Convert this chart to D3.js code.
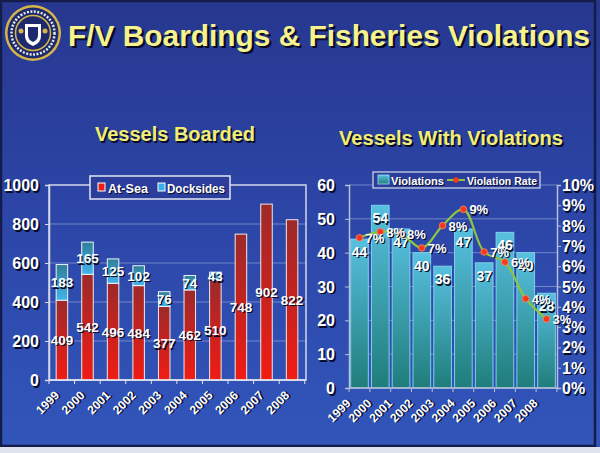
<!DOCTYPE html>
<html><head><meta charset="utf-8">
<script src="https://cdn.jsdelivr.net/npm/d3@7"></script>
<style>html,body{margin:0;padding:0;background:#2a3f9f;}svg{display:block;}</style>
</head><body>
<script>
const years = ["1999","2000","2001","2002","2003","2004","2005","2006","2007","2008"];
const atSea = [409,542,496,484,377,462,510,748,902,822];
const docksides = [183,165,125,102,76,74,43,0,0,0];
const violations = [44,54,47,40,36,47,37,46,40,28];
const violationRate = [7.4,7.7,7.6,6.9,8.0,8.8,6.7,6.2,4.4,3.4];
const leftTicks = [0,200,400,600,800,1000];
const rightCountTicks = [0,10,20,30,40,50,60];
const rateTicks = [0,1,2,3,4,5,6,7,8,9,10];

const W = 600, H = 453;
const svg = d3.select("body").append("svg").attr("width", W).attr("height", H);
const defs = svg.append("defs");

const bg = defs.append("linearGradient").attr("id","bg").attr("x1",0).attr("y1",0).attr("x2",0).attr("y2",1);
bg.append("stop").attr("offset","0%").attr("stop-color","#27378f");
bg.append("stop").attr("offset","45%").attr("stop-color","#2c45a6");
bg.append("stop").attr("offset","100%").attr("stop-color","#3256bb");
const red = defs.append("linearGradient").attr("id","red").attr("x1",0).attr("y1",0).attr("x2",0).attr("y2",1);
red.append("stop").attr("offset","0%").attr("stop-color","#9c2a2a");
red.append("stop").attr("offset","100%").attr("stop-color","#f01c14");
const blu = defs.append("linearGradient").attr("id","blu").attr("x1",0).attr("y1",0).attr("x2",0).attr("y2",1);
blu.append("stop").attr("offset","0%").attr("stop-color","#2f7f98");
blu.append("stop").attr("offset","100%").attr("stop-color","#42b4ec");
const teal = defs.append("linearGradient").attr("id","teal").attr("x1",0).attr("y1",0).attr("x2",0).attr("y2",1);
teal.append("stop").attr("offset","0%").attr("stop-color","#58c0e0");
teal.append("stop").attr("offset","100%").attr("stop-color","#1f7d7a");

svg.append("rect").attr("width",W).attr("height",H).attr("fill","url(#bg)");
svg.append("rect").attr("x",1).attr("y",1).attr("width",W-6).attr("height",H-8)
  .attr("fill","none").attr("stroke","#141c4a").attr("stroke-width",2.5);
svg.append("rect").attr("x",0).attr("y",H-6).attr("width",W).attr("height",6).attr("fill","#dfe3ee");

function label(g, x, y, txt, opts) {
  const o = Object.assign({size:14, fill:"#fff", anchor:"middle", weight:"bold", d:1.3, shadow:"#070b26", rotate:null, length:null}, opts||{});
  const mk = (xx, yy, col) => {
    const t = g.append("text").attr("x", xx).attr("y", yy).text(txt)
      .attr("font-family","'Liberation Sans', Arial, sans-serif")
      .attr("font-size", o.size).attr("font-weight", o.weight)
      .attr("fill", col).attr("text-anchor", o.anchor);
    if (o.length) t.attr("textLength", o.length).attr("lengthAdjust","spacingAndGlyphs");
    if (o.rotate !== null) t.attr("transform", `rotate(${o.rotate},${x},${y})`);
    return t;
  };
  mk(x + o.d, y + o.d, o.shadow);
  return mk(x, y, o.fill);
}

// Seal
const seal = svg.append("g").attr("transform","translate(33,33)");
seal.append("circle").attr("r",28).attr("fill","#d6b447");
seal.append("circle").attr("r",25.5).attr("fill","#1d2b6e");
seal.append("circle").attr("r",17.5).attr("fill","none").attr("stroke","#d6b447").attr("stroke-width",1.5);
seal.append("circle").attr("r",21.5).attr("fill","none").attr("stroke","#e8e8e8").attr("stroke-width",2.5).attr("stroke-dasharray","2,1.5");
seal.append("path").attr("d","M-8,-9 L8,-9 L8,3 Q8,10 0,13 Q-8,10 -8,3 Z").attr("fill","#ffffff");
seal.append("path").attr("d","M-5,-6 L5,-6 L5,2 Q5,7 0,9 Q-5,7 -5,2 Z").attr("fill","#1d2b6e");
seal.append("circle").attr("cx",-12).attr("cy",-2).attr("r",2.5).attr("fill","#d6b447");
seal.append("circle").attr("cx",12).attr("cy",-2).attr("r",2.5).attr("fill","#d6b447");

// Titles
label(svg, 68, 46, "F/V Boardings & Fisheries Violations", {size:30, anchor:"start", fill:"#f6f28c", d:2.2, length:522});
label(svg, 95, 141, "Vessels Boarded", {size:20, anchor:"start", fill:"#f3ee72", d:1.6, length:160});
label(svg, 339, 145, "Vessels With Violations", {size:20, anchor:"start", fill:"#f3ee72", d:1.6, length:224});

// ---------- Left chart ----------
const L = svg.append("g");
const xL = d3.scaleBand().domain(years).range([49,305]).paddingInner(0.55).paddingOuter(0.28);
const yL = d3.scaleLinear().domain([0,1000]).range([380,185]);

L.selectAll("line.grid").data(leftTicks.filter(d=>d>0&&d<1000)).join("line")
  .attr("x1",49).attr("x2",306).attr("y1",d=>yL(d)).attr("y2",d=>yL(d))
  .attr("stroke","#8fa0d8").attr("stroke-width",1).attr("opacity",0.7);
L.append("rect").attr("x",49).attr("y",yL(1000)).attr("width",257).attr("height",yL(0)-yL(1000))
  .attr("fill","none").attr("stroke","#d4d8e8").attr("stroke-width",1.5);

const stackL = years.map((y,i)=>({year:y, a:atSea[i], d:docksides[i]}));
L.selectAll("rect.sea").data(stackL).join("rect")
  .attr("x",d=>xL(d.year)).attr("width",xL.bandwidth())
  .attr("y",d=>yL(d.a)).attr("height",d=>yL(0)-yL(d.a))
  .attr("fill","url(#red)").attr("stroke","#f2e8e8").attr("stroke-width",1);
L.selectAll("rect.dock").data(stackL.filter(d=>d.d>0)).join("rect")
  .attr("x",d=>xL(d.year)).attr("width",xL.bandwidth())
  .attr("y",d=>yL(d.a+d.d)).attr("height",d=>yL(d.a)-yL(d.a+d.d))
  .attr("fill","url(#blu)").attr("stroke","#eef4f8").attr("stroke-width",1);

stackL.forEach(d=>{
  const cx = xL(d.year)+xL.bandwidth()/2;
  label(L, cx, yL(d.a/2)+5, String(d.a), {size:13.5});
  if (d.d>0) label(L, cx, yL(d.a+d.d/2)+5, String(d.d), {size:13.5});
});

const axL = L.append("g").attr("transform","translate(49,0)")
  .call(d3.axisLeft(yL).tickValues(leftTicks).tickSize(4).tickFormat(""));
axL.select(".domain").attr("stroke","#d4d8e8").attr("stroke-width",1.5);
axL.selectAll(".tick line").attr("stroke","#d4d8e8");
leftTicks.forEach(t=>label(L, 39, yL(t)+6, String(t), {size:16, anchor:"end", d:1.6}));

L.append("line").attr("x1",49).attr("x2",306).attr("y1",380).attr("y2",380).attr("stroke","#e0e4f0").attr("stroke-width",1.5);
L.selectAll("line.xt").data(d3.range(11)).join("line")
  .attr("x1",d=>49+d*xL.step()).attr("x2",d=>49+d*xL.step())
  .attr("y1",380).attr("y2",384).attr("stroke","#e0e4f0");
years.forEach(y=>{
  const cx = xL(y)+xL.bandwidth()/2;
  label(L, cx-2, 396, y, {size:12, anchor:"end", rotate:-45, d:1.2});
});

const lgL = L.append("g");
lgL.append("rect").attr("x",90).attr("y",176).attr("width",140).attr("height",23)
  .attr("fill","#2b3e9c").attr("stroke","#e4e6f0").attr("stroke-width",1.5);
lgL.append("rect").attr("x",98).attr("y",183).attr("width",7).attr("height",8).attr("fill","#e82018").attr("stroke","#fff").attr("stroke-width",1);
label(lgL, 108, 192.5, "At-Sea", {size:12.5, anchor:"start", length:40, d:1});
lgL.append("rect").attr("x",158).attr("y",183).attr("width",7).attr("height",8).attr("fill","#3aaee6").attr("stroke","#fff").attr("stroke-width",1);
label(lgL, 167, 192.5, "Docksides", {size:12.5, anchor:"start", length:58, d:1});

// ---------- Right chart ----------
const R = svg.append("g");
const xR = d3.scaleBand().domain(years).range([349,557]).paddingInner(0.15).paddingOuter(0.08);
const yR = d3.scaleLinear().domain([0,60]).range([388,185]);
const yP = d3.scaleLinear().domain([0,10]).range([388,185]);

R.selectAll("line.grid").data(rightCountTicks.filter(d=>d>0)).join("line")
  .attr("x1",349).attr("x2",557).attr("y1",d=>yR(d)).attr("y2",d=>yR(d))
  .attr("stroke","#8fa0d8").attr("stroke-width",1).attr("opacity",0.7);

R.selectAll("rect.viol").data(years.map((y,i)=>({year:y,v:violations[i]}))).join("rect")
  .attr("x",d=>xR(d.year)).attr("width",xR.bandwidth())
  .attr("y",d=>yR(d.v)).attr("height",d=>yR(0)-yR(d.v))
  .attr("fill","url(#teal)").attr("stroke","#7fd0e8").attr("stroke-width",1);

const axRl = R.append("g").attr("transform","translate(349,0)")
  .call(d3.axisLeft(yR).tickValues(rightCountTicks).tickSize(4).tickFormat(""));
axRl.select(".domain").attr("stroke","#b8bfd8").attr("stroke-width",1.5);
axRl.selectAll(".tick line").attr("stroke","#b8bfd8");
const axRr = R.append("g").attr("transform","translate(557,0)")
  .call(d3.axisRight(yP).tickValues(rateTicks).tickSize(4).tickFormat(""));
axRr.select(".domain").attr("stroke","#b8bfd8").attr("stroke-width",1.5);
axRr.selectAll(".tick line").attr("stroke","#b8bfd8");
R.append("line").attr("x1",349).attr("x2",557).attr("y1",388).attr("y2",388).attr("stroke","#b8bfd8").attr("stroke-width",1.5);
R.selectAll("line.xt").data(d3.range(11)).join("line")
  .attr("x1",d=>349+d*xR.step()+1.66-xR.step()*0.075).attr("x2",d=>349+d*xR.step()+1.66-xR.step()*0.075)
  .attr("y1",388).attr("y2",392).attr("stroke","#b8bfd8");

rightCountTicks.forEach(t=>label(R, 335, yR(t)+6, String(t), {size:16, anchor:"end", d:1.6}));
rateTicks.forEach(t=>label(R, 562, yP(t)+6, t+"%", {size:16, anchor:"start", d:1.6}));

violations.forEach((v,i)=>{
  const cx = xR(years[i])+xR.bandwidth()/2;
  label(R, cx, yR(v)+18, String(v), {size:14});
});

const pts = years.map((y,i)=>[xR(y)+xR.bandwidth()/2, yP(violationRate[i])]);
R.append("path").attr("d", d3.line().curve(d3.curveCatmullRom.alpha(0.5))(pts))
  .attr("fill","none").attr("stroke","#8cc63c").attr("stroke-width",2.2);
R.selectAll("circle.pt").data(pts).join("circle")
  .attr("cx",d=>d[0]).attr("cy",d=>d[1]).attr("r",3.3)
  .attr("fill","#f23a1c").attr("stroke","#ff8a60").attr("stroke-width",0.8);
pts.forEach((p,i)=>{
  label(R, p[0]+6, p[1]+5, Math.round(violationRate[i])+"%", {size:13, anchor:"start"});
});

years.forEach(y=>{
  const cx = xR(y)+xR.bandwidth()/2;
  label(R, cx-8, 404, y, {size:12, anchor:"end", rotate:-45, d:1.2});
});

const lgR = R.append("g");
lgR.append("rect").attr("x",373).attr("y",172).attr("width",167).attr("height",16)
  .attr("fill","#2b3e9c").attr("stroke","#d8dcea").attr("stroke-width",1.2);
lgR.append("rect").attr("x",378).attr("y",175).attr("width",11).attr("height",9).attr("fill","url(#teal)").attr("stroke","#9fe0f0").attr("stroke-width",0.8);
label(lgR, 391, 184.5, "Violations", {size:11.5, anchor:"start", length:53, d:1});
lgR.append("line").attr("x1",447).attr("x2",465).attr("y1",180).attr("y2",180).attr("stroke","#8cc63c").attr("stroke-width",2);
lgR.append("circle").attr("cx",456).attr("cy",180).attr("r",2.8).attr("fill","#f23a1c");
label(lgR, 467, 184.5, "Violation Rate", {size:11.5, anchor:"start", length:70, d:1});
</script>
</body></html>
